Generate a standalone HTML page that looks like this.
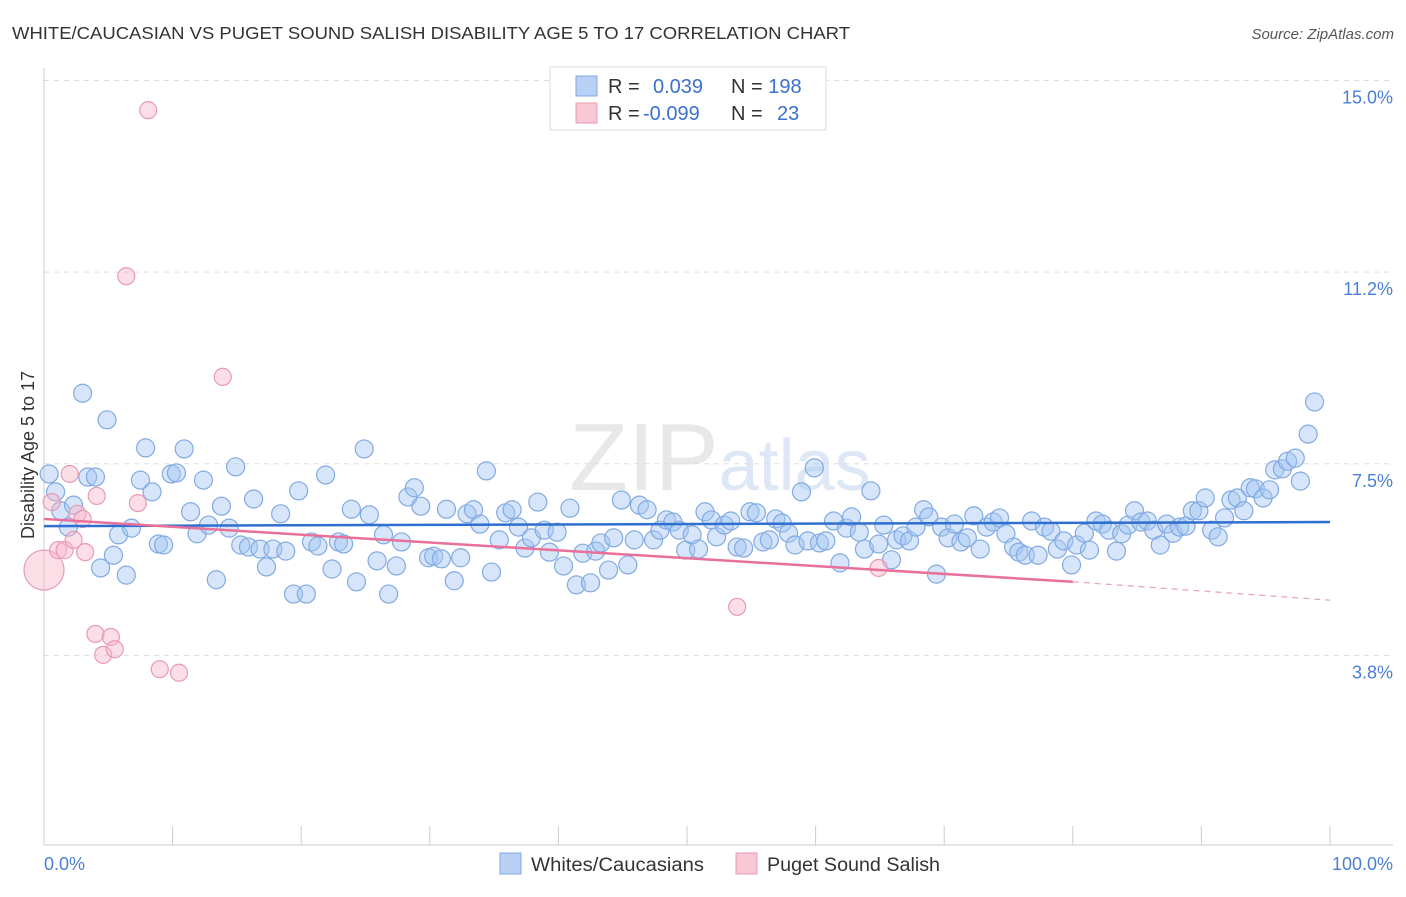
<!DOCTYPE html>
<html><head><meta charset="utf-8"><style>
body{margin:0;background:#fff;font-family:"Liberation Sans",sans-serif}
svg text{font-family:"Liberation Sans",sans-serif}
</style></head><body>
<svg width="1406" height="892" viewBox="0 0 1406 892">
<text x="12" y="39" font-size="17.5" fill="#333" textLength="838" lengthAdjust="spacingAndGlyphs">WHITE/CAUCASIAN VS PUGET SOUND SALISH DISABILITY AGE 5 TO 17 CORRELATION CHART</text>
<text x="1394" y="39" font-size="15" fill="#555" font-style="italic" text-anchor="end">Source: ZipAtlas.com</text>
<text x="720" y="490" font-size="96" fill="#e8e8e8" text-anchor="middle" font-family="Liberation Serif">ZIP<tspan fill="#dde7f5" font-family="Liberation Sans" font-size="72">atlas</tspan></text>
<g id="grid"></g><g id="axes"></g><g id="pts"></g><g id="trend"></g>
<text x="34" y="455" font-size="18" fill="#333" text-anchor="middle" transform="rotate(-90 34 455)">Disability Age 5 to 17</text>
<text x="44" y="870" font-size="18" fill="#4a7fd4">0.0%</text>
<text x="1393" y="870" font-size="18" fill="#4a7fd4" text-anchor="end">100.0%</text>
<g>
<rect x="500" y="853" width="21" height="21" fill="#b8d0f4" stroke="#7fa8e0"/>
<text x="531" y="871" font-size="19" fill="#333" textLength="173" lengthAdjust="spacingAndGlyphs">Whites/Caucasians</text>
<rect x="736" y="853" width="21" height="21" fill="#f9c8d6" stroke="#e89ab4"/>
<text x="767" y="871" font-size="19" fill="#333" textLength="173" lengthAdjust="spacingAndGlyphs">Puget Sound Salish</text>
</g>
<g>
<rect x="550" y="67" width="276" height="63" fill="#fff" stroke="#ddd"/>
<rect x="576" y="76" width="21" height="20" fill="#b8d0f4" stroke="#7fa8e0"/>
<rect x="576" y="103" width="21" height="20" fill="#f9c8d6" stroke="#e89ab4"/>
<text x="608" y="93" font-size="20" fill="#333">R = <tspan fill="#3a70d0" x="653">0.039</tspan><tspan x="731" fill="#333">N = </tspan><tspan fill="#3a70d0">198</tspan></text>
<text x="608" y="120" font-size="20" fill="#333">R = <tspan fill="#3a70d0" x="643">-0.099</tspan><tspan x="731" fill="#333">N = </tspan><tspan fill="#3a70d0" x="777">23</tspan></text>
</g>
</svg>
<script>
const yTicks=[15.0,11.25,7.5,3.75];
const yTickLabels=["15.0%","11.2%","7.5%","3.8%"];
const xTicks=[0,10,20,30,40,50,60,70,80,90,100];
const blueX=[0.4,0.9,1.3,1.9,2.3,3.0,3.4,4.0,4.4,4.9,5.4,5.8,6.4,6.8,7.5,7.9,8.4,8.9,9.3,9.9,10.3,10.9,11.4,11.9,12.4,12.8,13.4,13.8,14.4,14.9,15.3,15.9,16.3,16.8,17.3,17.8,18.4,18.8,19.4,19.8,20.4,20.8,21.3,21.9,22.4,22.9,23.3,23.9,24.3,24.9,25.3,25.9,26.4,26.8,27.4,27.8,28.3,28.8,29.3,29.9,30.3,30.9,31.3,31.9,32.4,32.9,33.4,33.9,34.4,34.8,35.4,35.9,36.4,36.9,37.4,37.9,38.4,38.9,39.3,39.9,40.4,40.9,41.4,41.9,42.5,42.9,43.3,43.9,44.3,44.9,45.4,45.9,46.3,46.9,47.4,47.9,48.4,48.9,49.4,49.9,50.4,50.9,51.4,51.9,52.3,52.9,53.4,53.9,54.4,54.9,55.4,55.9,56.4,56.9,57.4,57.9,58.4,58.9,59.4,59.9,60.3,60.8,61.4,61.9,62.4,62.8,63.4,63.8,64.3,64.9,65.3,65.9,66.3,66.8,67.3,67.8,68.4,68.8,69.4,69.8,70.3,70.8,71.3,71.8,72.3,72.8,73.3,73.8,74.3,74.8,75.4,75.8,76.3,76.8,77.3,77.8,78.3,78.8,79.3,79.9,80.3,80.9,81.3,81.8,82.3,82.8,83.4,83.8,84.3,84.8,85.3,85.8,86.3,86.8,87.3,87.8,88.3,88.8,89.3,89.8,90.3,90.8,91.3,91.8,92.3,92.8,93.3,93.8,94.2,94.8,95.3,95.7,96.3,96.7,97.3,97.7,98.3,98.8];
const blueY=[7.30,6.95,6.58,6.26,6.69,8.88,7.24,7.24,5.46,8.36,5.71,6.11,5.32,6.24,7.18,7.81,6.95,5.93,5.91,7.30,7.32,7.79,6.56,6.13,7.18,6.30,5.23,6.67,6.24,7.44,5.91,5.87,6.81,5.83,5.48,5.83,6.52,5.79,4.95,6.97,4.95,5.97,5.89,7.28,5.44,5.97,5.93,6.61,5.19,7.79,6.50,5.60,6.11,4.95,5.50,5.97,6.85,7.03,6.67,5.66,5.69,5.64,6.61,5.21,5.66,6.52,6.60,6.32,7.36,5.38,6.01,6.54,6.60,6.26,5.85,6.05,6.75,6.20,5.77,6.16,5.50,6.63,5.13,5.75,5.17,5.79,5.95,5.42,6.05,6.79,5.52,6.01,6.69,6.60,6.01,6.20,6.40,6.36,6.20,5.81,6.11,5.83,6.56,6.40,6.07,6.30,6.38,5.87,5.85,6.56,6.54,5.97,6.01,6.42,6.34,6.14,5.91,6.95,5.99,7.42,5.95,5.99,6.38,5.56,6.24,6.46,6.16,5.83,6.97,5.93,6.30,5.62,6.01,6.09,5.99,6.26,6.60,6.46,5.34,6.26,6.05,6.32,5.97,6.05,6.48,5.83,6.26,6.36,6.44,6.13,5.87,5.77,5.71,6.38,5.71,6.26,6.18,5.83,5.99,5.52,5.91,6.14,5.81,6.38,6.32,6.20,5.79,6.13,6.30,6.58,6.36,6.38,6.20,5.91,6.32,6.14,6.26,6.28,6.58,6.58,6.83,6.20,6.07,6.44,6.79,6.83,6.58,7.03,7.01,6.83,6.99,7.38,7.40,7.55,7.61,7.16,8.08,8.71];
const pinkX=[0,0.6,1.1,1.6,2.0,2.3,2.6,3.0,3.2,4.0,4.1,4.6,5.2,5.5,6.4,7.3,8.1,9.0,10.5,13.9,53.9,64.9];
const pinkY=[5.42,6.75,5.81,5.81,7.30,6.01,6.52,6.42,5.77,4.17,6.87,3.76,4.11,3.87,11.17,6.73,14.42,3.48,3.41,9.20,4.70,5.46];
const blueTrend=[6.28,6.36];
const pinkTrend=[6.42,5.19,4.83];
const pinkSolidEnd=80;
const NS="http://www.w3.org/2000/svg";
const X=v=>44+v*12.86, Y=v=>847-v*51.1;
function mk(p,t,a){const e=document.createElementNS(NS,t);for(const k in a)e.setAttribute(k,a[k]);p.appendChild(e);return e;}
const grid=document.getElementById('grid'),axes=document.getElementById('axes'),pts=document.getElementById('pts'),tr=document.getElementById('trend');
yTicks.forEach((v,i)=>{
 const l=mk(grid,'line',{x1:44,x2:1393,y1:Y(v),y2:Y(v),stroke:'#ddd','stroke-dasharray':'5,5'});
 
 
 const t=mk(grid,'text',{x:1393,y:Y(v)+23,'font-size':18,fill:'#4a7fd4','text-anchor':'end'});
 t.textContent=yTickLabels[i];
 
 
});
const ya=mk(axes,'line',{x1:44,x2:44,y1:68,y2:845,stroke:'#ccc'});


const xa=mk(axes,'line',{x1:44,x2:1393,y1:845,y2:845,stroke:'#ccc'});


xTicks.forEach(v=>{const t=mk(axes,'line',{x1:X(v),x2:X(v),y1:826,y2:845,stroke:'#ccc'});
 
 });
blueX.forEach((x,i)=>{const c=mk(pts,'circle',{cx:X(x),cy:Y(blueY[i]),r:9,fill:'rgba(165,198,242,0.45)',stroke:'#82aae2','stroke-width':1.2});
 
 });
pinkX.forEach((x,i)=>{const c=mk(pts,'circle',{cx:X(x),cy:Y(pinkY[i]),r:i==0?20:8.5,fill:'rgba(248,182,202,0.45)',stroke:'#e89ab4','stroke-width':1.2});
 
 });
const bt=mk(tr,'line',{x1:X(0),x2:X(100),y1:Y(blueTrend[0]),y2:Y(blueTrend[1]),stroke:'#2f6fd0','stroke-width':2.5});


const pt=mk(tr,'line',{x1:X(0),x2:X(pinkSolidEnd),y1:Y(pinkTrend[0]),y2:Y(pinkTrend[1]),stroke:'#e8709a','stroke-width':2.5});


const pd=mk(tr,'line',{x1:X(pinkSolidEnd),x2:X(100),y1:Y(pinkTrend[1]),y2:Y(pinkTrend[2]),stroke:'#e8a0b8','stroke-width':1.2,'stroke-dasharray':'6,5'});


</script>
</body></html>
